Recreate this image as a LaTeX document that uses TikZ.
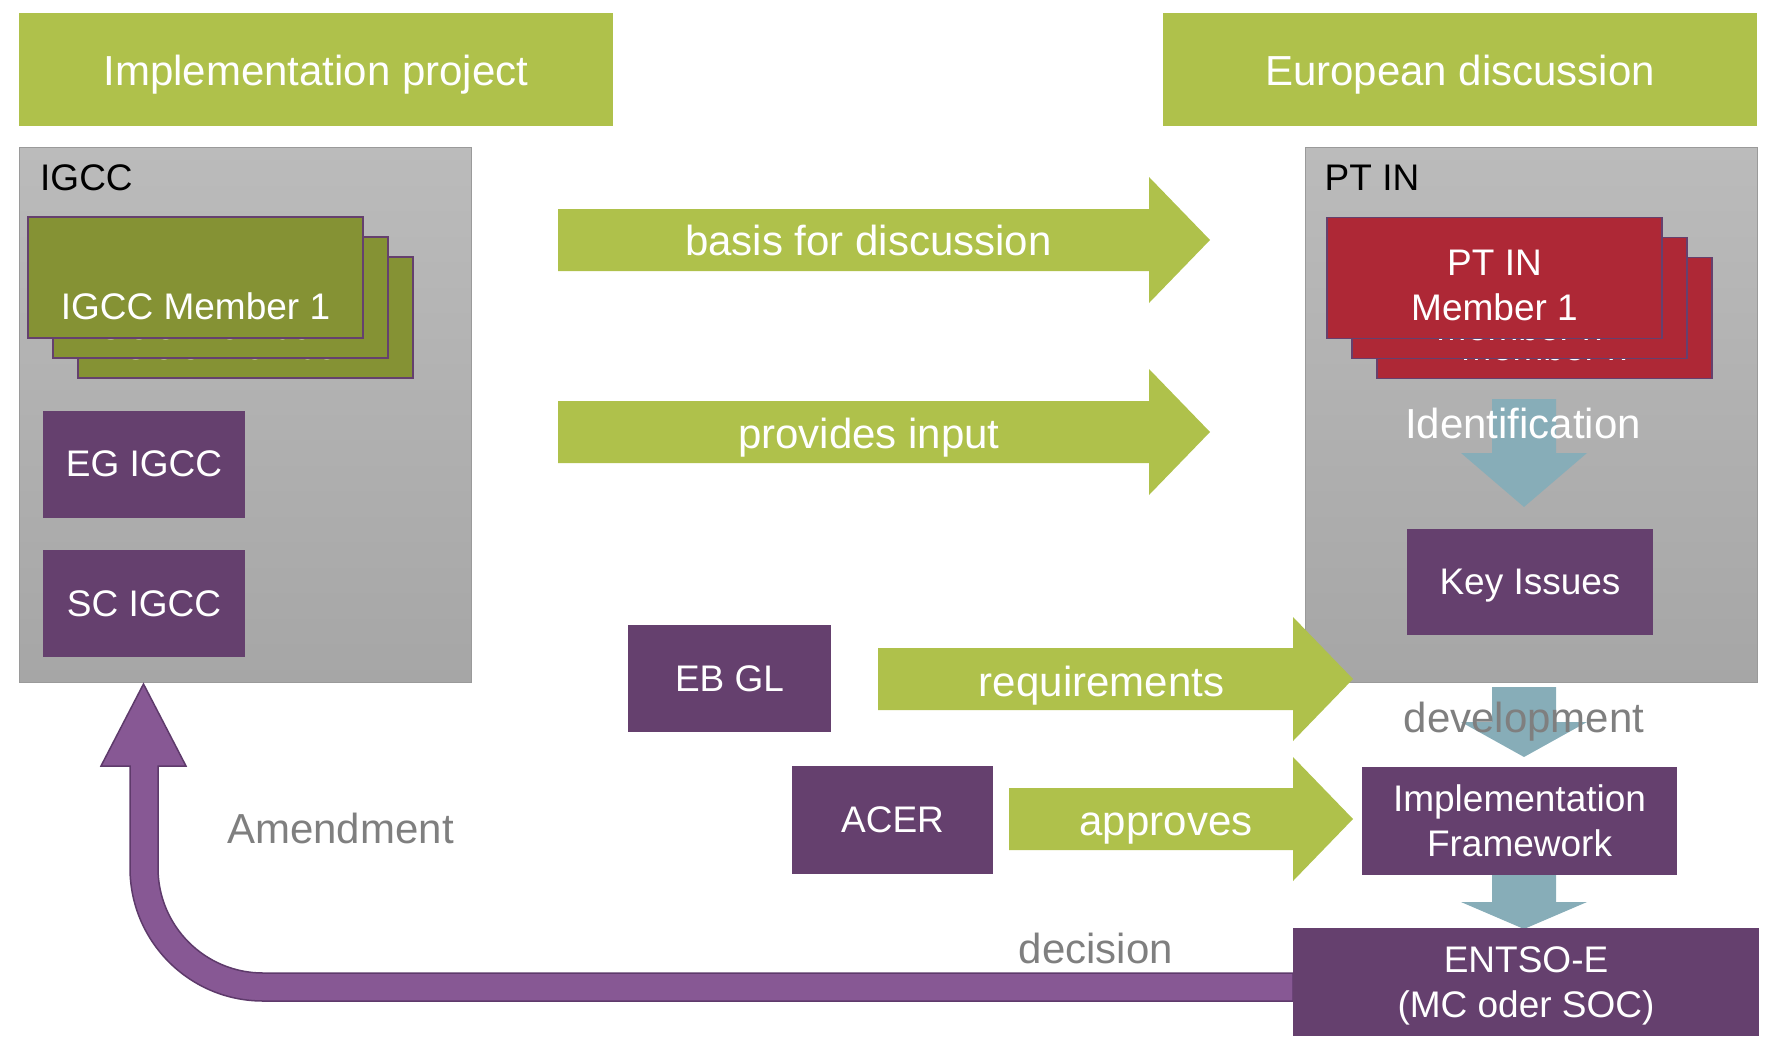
\documentclass[tikz,border=0pt]{standalone}
\usepackage{fontspec}
\setmainfont{Liberation Sans}
\usepackage{xcolor}
\usetikzlibrary{positioning,calc}
\definecolor{lime}{HTML}{AFC14B}
\definecolor{olive}{HTML}{859234}
\definecolor{plum}{HTML}{65406E}
\definecolor{crimson}{HTML}{AE2836}
\definecolor{steel}{HTML}{87ADB8}
\definecolor{amend}{HTML}{875894}
\definecolor{amendline}{HTML}{5E3A6B}
\definecolor{greytxt}{HTML}{7F7F7F}
\definecolor{greytop}{HTML}{BBBBBB}
\definecolor{greybot}{HTML}{A6A6A6}
\definecolor{boxline}{HTML}{9A9A9A}

\begin{document}
\begin{tikzpicture}[x=1pt,y=1pt,inner sep=0pt,font=\fontsize{37}{45}\selectfont]
  \tikzstyle{banner}=[fill=lime,text=white,minimum width=594pt,minimum height=113pt,text depth=0pt,font=\fontsize{42}{50}\selectfont]
  \tikzstyle{group}=[draw=boxline,line width=1pt,top color=greytop,bottom color=greybot,minimum width=452pt,minimum height=535pt]
  \tikzstyle{card}=[draw=plum,line width=1.5pt,minimum width=335pt,minimum height=121pt]
  \tikzstyle{cardtext}=[text=white,align=center]
  \tikzstyle{pbox}=[fill=plum,text=white,align=center,minimum height=107pt]
  \tikzstyle{arrowtext}=[text=white,font=\fontsize{42}{50}\selectfont]
  \tikzstyle{greylabel}=[text=greytxt,font=\fontsize{42}{50}\selectfont]

  \useasboundingbox (0,0) rectangle (1768,-1038);

  \node[banner] (implproj) at (316,-70) {Implementation project};
  \node[banner] (eurodisc) at (1460,-70) {European discussion};

  \node[group] (igcc) at (245.5,-414.5) {};
  \node[group] (ptin) at (1531,-414.5) {};
  \node[anchor=north west] (igcclbl) at ($(igcc.north west)+(21,-18)$) {IGCC};
  \node[anchor=north west] (ptinlbl) at ($(ptin.north west)+(20,-18)$) {PT IN};

  \foreach \k/\m in {2/n,1/n,0/1} {
    \node[card,fill=olive] (igccm\k) at ($(195.5,-277.5)+(25*\k,-20*\k)$) {};
    \node[cardtext] (igcct\k) at ($(igccm\k.center)+(0,-28.5)$) {IGCC Member \m};
    \node[card,fill=crimson] (ptinm\k) at ($(1494.5,-278)+(25*\k,-20*\k)$) {};
    \node[cardtext] (ptint\k) at ($(ptinm\k.center)+(0,-7)$) {PT IN\\Member \m};
  }

  \node[pbox,minimum width=202pt] (egigcc) at (144,-464) {EG IGCC};
  \node[pbox,minimum width=202pt,below=32pt of egigcc] (scigcc) {SC IGCC};

  \fill[steel] (1492,-399) -- (1556,-399) -- (1556,-453) -- (1587,-453) -- (1524,-507) -- (1461,-453) -- (1492,-453) -- cycle;
  \node[text=white,font=\fontsize{42}{50}\selectfont] (ident) at (1523,-423) {Identification};
  \node[pbox,minimum width=246pt,minimum height=106pt,text depth=0pt] (keyissues) at (1530,-582) {Key Issues};

  \fill[lime] (558,-209) -- (1149,-209) -- (1149,-177) -- (1210,-240) -- (1149,-303) -- (1149,-271) -- (558,-271) -- cycle;
  \node[arrowtext] (basis) at (868.5,-240.5) {basis for discussion};
  \fill[lime] (558,-401) -- (1149,-401) -- (1149,-369) -- (1210,-432) -- (1149,-495) -- (1149,-463) -- (558,-463) -- cycle;
  \node[arrowtext] (input) at (869,-437.5) {provides input};
  \fill[lime] (878,-648) -- (1293,-648) -- (1293,-617) -- (1353,-679) -- (1293,-741) -- (1293,-710) -- (878,-710) -- cycle;
  \node[arrowtext] (require) at (1101.5,-686) {requirements};
  \fill[lime] (1009,-788) -- (1293,-788) -- (1293,-757) -- (1353,-819) -- (1293,-881) -- (1293,-850) -- (1009,-850) -- cycle;
  \node[arrowtext] (approve) at (1166,-829) {approves};

  \node[pbox,minimum width=203pt] (ebgl) at (729.5,-678.5) {EB GL};
  \node[pbox,minimum width=201pt,minimum height=108pt] (acer) at (892.5,-820) {ACER};

  \fill[steel] (1492,-687) -- (1556,-687) -- (1556,-722) -- (1587,-722) -- (1524,-757) -- (1461,-722) -- (1492,-722) -- cycle;
  \node[greylabel] (devel) at (1524,-721.5) {development};
  \node[pbox,minimum width=315pt,minimum height=108pt] (implfw) at (1519.5,-821) {Implementation\\Framework};
  \fill[steel] (1492,-875) -- (1556,-875) -- (1556,-902) -- (1587,-902) -- (1524,-929) -- (1461,-902) -- (1492,-902) -- cycle;

  \filldraw[fill=amend,draw=amendline,line width=1.5pt] (1293,-973) -- (263,-973) arc[start angle=270,end angle=180,radius=105pt] -- (158,-766) -- (186,-766) -- (143.5,-684) -- (101,-766) -- (130,-766) -- (130,-868) arc[start angle=180,end angle=270,radius=133pt] -- (1293,-1001) -- cycle;
  \node[pbox,minimum width=466pt,minimum height=108pt,text depth=0pt] (entso) at (1526,-982) {ENTSO-E\\(MC oder SOC)};

  \node[greylabel] (amendlbl) at (340.5,-828) {Amendment};
  \node[greylabel] (decision) at (1096,-948) {decision};
\end{tikzpicture}
\end{document}
